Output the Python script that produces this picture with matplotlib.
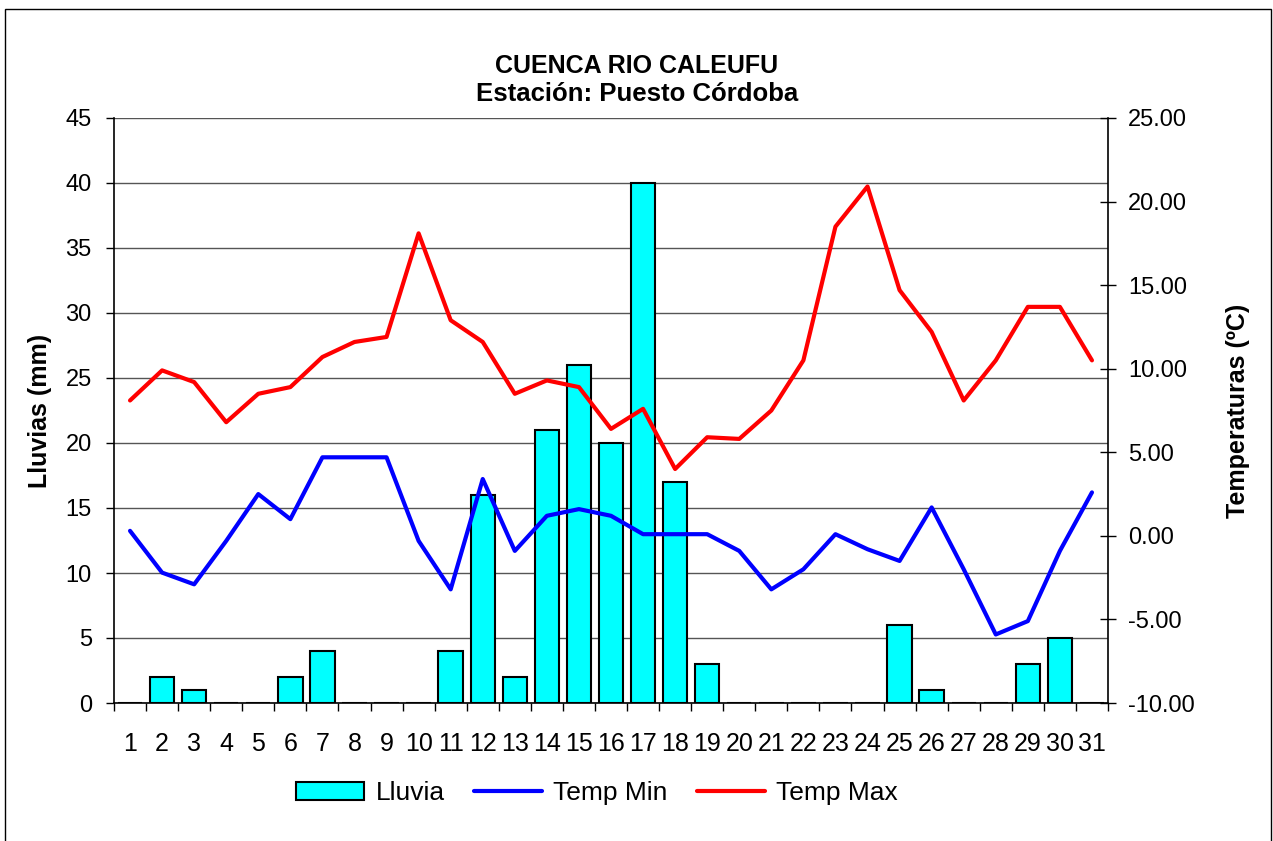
# lluvia y temperaturas diarias - cuenca rio caleufu

import numpy as np
import matplotlib.pyplot as plt
from matplotlib import font_manager
from matplotlib.patches import Rectangle

plt.rcParams['font.family'] = ['Liberation Sans', 'DejaVu Sans']

# fuente angosta para eje x y leyenda (si existe)
nombres = set(f.name for f in font_manager.fontManager.ttflist)
angosta = 'Liberation Sans Narrow' if 'Liberation Sans Narrow' in nombres else 'Liberation Sans'
print(angosta)

dias = list(range(1, 32))
lluvia = [0, 2, 1, 0, 0, 2, 4, 0, 0, 0, 4, 16, 2, 21, 26, 20, 40, 17, 3, 0,
          0, 0, 0, 0, 6, 1, 0, 0, 3, 5, 0]
temp_min = [0.3, -2.2, -2.9, -0.3, 2.5, 1.0, 4.7, 4.7, 4.7, -0.3, -3.2, 3.4,
            -0.9, 1.2, 1.6, 1.2, 0.1, 0.1, 0.1, -0.9, -3.2, -2.0, 0.1, -0.8,
            -1.5, 1.7, -2.0, -5.9, -5.1, -0.9, 2.6]
temp_max = [8.1, 9.9, 9.2, 6.8, 8.5, 8.9, 10.7, 11.6, 11.9, 18.1, 12.9, 11.6,
            8.5, 9.3, 8.9, 6.4, 7.6, 4.0, 5.9, 5.8, 7.5, 10.5, 18.5, 20.9,
            14.7, 12.2, 8.1, 10.5, 13.7, 13.7, 10.5]

fig = plt.figure(figsize=(12.73, 8.41), dpi=100)
ax = fig.add_axes([114 / 1273, 138 / 841, 994 / 1273, 585 / 841])
ax2 = ax.twinx()

# barras de lluvia en eje izquierdo
b = ax.bar(dias, lluvia, width=0.76, color='#00FFFF', edgecolor='black',
           linewidth=1.5, label='Lluvia', zorder=2)
ax.set_ylim(0, 45)
ax.set_yticks(np.arange(0, 46, 5))
ax.set_xlim(0.5, 31.5)
ax.set_xticks(dias)
ax.set_xticks(np.arange(0.5, 32, 1), minor=True)
ax.grid(axis='y', color='#555555', linewidth=1, zorder=0)
ax.set_axisbelow(True)
ax.tick_params(axis='y', direction='out', length=6, width=1, pad=10, labelsize=17)
ax.tick_params(axis='x', which='major', length=0, pad=21, labelsize=18)
ax.tick_params(axis='x', which='minor', direction='out', length=6, width=1)
for t in ax.get_xticklabels():
    t.set_family([angosta, 'DejaVu Sans'])
for s in ['top', 'right']:
    ax.spines[s].set_visible(False)
ax.spines['left'].set_linewidth(1.2)
ax.spines['bottom'].set_linewidth(1.2)
ax.set_ylabel('Lluvias (mm)', fontsize=18, fontweight='bold')
ax.yaxis.set_label_coords(-0.0624, 0.5)

# temperaturas en eje derecho
l1, = ax2.plot(dias, temp_min, color='#0000FF', lw=3, label='Temp Min',
               solid_joinstyle='round', solid_capstyle='round')
l2, = ax2.plot(dias, temp_max, color='#FF0000', lw=3, label='Temp Max',
               solid_joinstyle='round', solid_capstyle='round')
ax2.set_ylim(-10, 25)
ax2.set_yticks(np.arange(-10, 26, 5))
ax2.set_yticklabels(['%.2f' % v for v in np.arange(-10, 26, 5)])
ax2.tick_params(axis='y', direction='inout', length=11, width=1, pad=9, labelsize=17)
for s in ['top', 'left', 'bottom']:
    ax2.spines[s].set_visible(False)
ax2.spines['right'].set_linewidth(1.2)
ax2.set_ylabel('Temperaturas (ºC)', fontsize=18, fontweight='bold')
ax2.yaxis.set_label_coords(1.1187, 0.5)

fig.text(636.5 / 1273, 1 - 73 / 841, 'CUENCA RIO CALEUFU', ha='center', va='baseline',
         fontsize=18, fontweight='bold')
fig.text(637.5 / 1273, 1 - 101 / 841, 'Estación: Puesto Córdoba', ha='center',
         va='baseline', fontsize=18.5, fontweight='bold')

fig.legend([b, l1, l2], ['Lluvia', 'Temp Min', 'Temp Max'], loc='center',
           bbox_to_anchor=(597 / 1273, 48 / 841), ncol=3, frameon=False,
           prop={'family': [angosta, 'DejaVu Sans'], 'size': 19},
           handlelength=2.6, handletextpad=0.42, columnspacing=1.1)

# borde del grafico
fig.patches.append(Rectangle((5 / 1273, -0.01), 1266 / 1273, 0.01 + 832 / 841,
                             transform=fig.transFigure, fill=False,
                             edgecolor='black', linewidth=1))

fig.savefig('out.png', dpi=100)
